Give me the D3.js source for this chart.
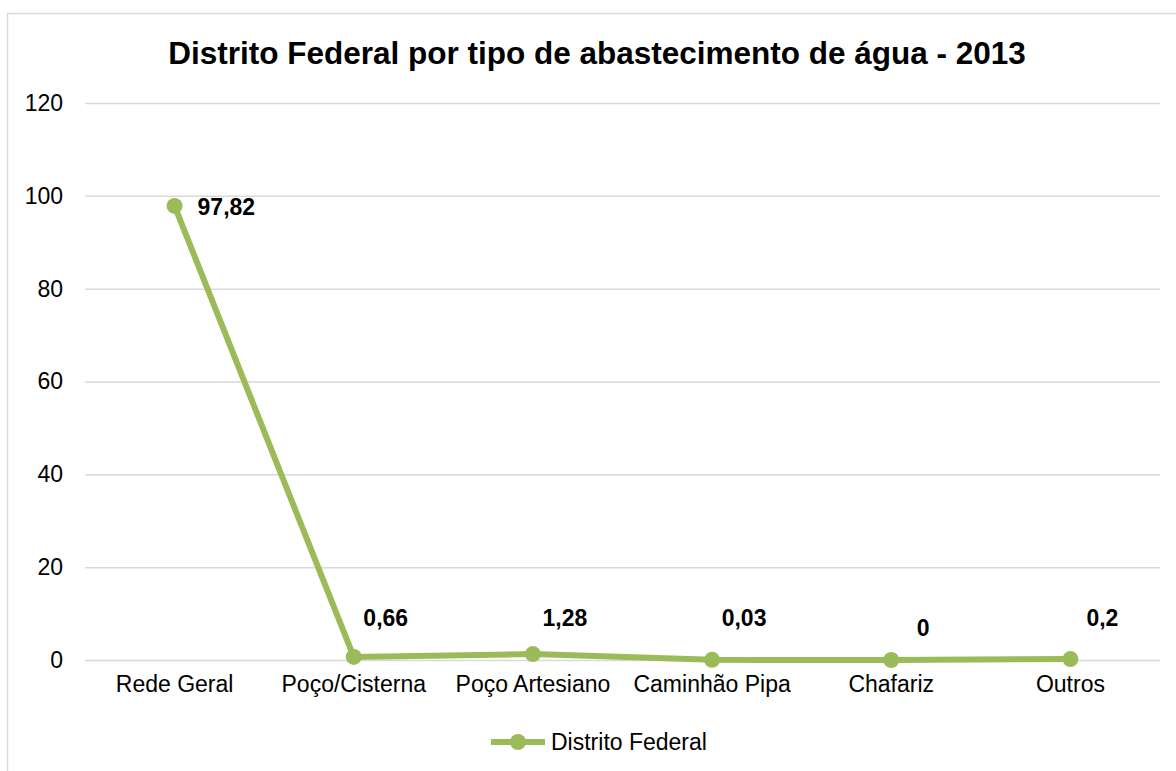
<!DOCTYPE html>
<html>
<head>
<meta charset="utf-8">
<script src="https://cdn.jsdelivr.net/npm/d3@7"></script>
<style>
  body { margin: 0; background: #fff; }
  svg { font-family: "Liberation Sans", Arial, sans-serif; }
</style>
</head>
<body>
<svg id="chart" width="1176" height="771"></svg>
<script>
const categories = ["Rede Geral", "Poço/Cisterna", "Poço Artesiano", "Caminhão Pipa", "Chafariz", "Outros"];
const values = [97.82, 0.66, 1.28, 0.03, 0, 0.2];
const yTicks = [0, 20, 40, 60, 80, 100, 120];
const seriesName = "Distrito Federal";
const title = "Distrito Federal por tipo de abastecimento de água - 2013";

const color = "#9BBB59";
const gridColor = "#d9d9d9";
const margin = { left: 85, top: 103, right: 16, bottom: 111 };
const W = 1176, H = 771;

const svg = d3.select("#chart");

// outer chart frame (runs off the right / bottom edge)
svg.append("rect")
  .attr("x", 7.5).attr("y", 13.5)
  .attr("width", 1200).attr("height", 800)
  .attr("fill", "none")
  .attr("stroke", gridColor)
  .attr("stroke-width", 1.5);

svg.append("text")
  .attr("x", 597).attr("y", 64)
  .attr("text-anchor", "middle")
  .attr("font-size", 31.5)
  .attr("font-weight", "bold")
  .text(title);

const x = d3.scaleBand().domain(categories).range([margin.left, W - margin.right]);
const y = d3.scaleLinear().domain([0, 120]).range([H - margin.bottom, margin.top]);
const cx = d => x(d) + x.bandwidth() / 2;

// gridlines + y labels
const yAxis = svg.append("g")
  .attr("transform", `translate(${margin.left},0)`)
  .call(d3.axisLeft(y).tickValues(yTicks).tickSize(-(W - margin.left - margin.right)).tickPadding(22));
yAxis.select(".domain").remove();
yAxis.selectAll(".tick line").attr("stroke", gridColor).attr("stroke-width", 1.5);
yAxis.selectAll(".tick text").attr("font-size", 23).attr("fill", "#000")
  .attr("font-family", "'Liberation Sans', Arial, sans-serif");

// x labels
const xAxis = svg.append("g")
  .attr("transform", `translate(0,${H - margin.bottom})`)
  .call(d3.axisBottom(x).tickSize(0).tickPadding(16));
xAxis.select(".domain").remove();
xAxis.selectAll(".tick text").attr("font-size", 23).attr("fill", "#000")
  .attr("font-family", "'Liberation Sans', Arial, sans-serif");

const pts = categories.map((c, i) => ({ c, v: values[i] }));

const line = d3.line().x(d => cx(d.c)).y(d => y(d.v));
svg.append("path")
  .datum(pts)
  .attr("fill", "none")
  .attr("stroke", color)
  .attr("stroke-width", 6)
  .attr("stroke-linejoin", "round")
  .attr("d", line);

svg.selectAll("circle.pt")
  .data(pts)
  .join("circle")
  .attr("class", "pt")
  .attr("cx", d => cx(d.c))
  .attr("cy", d => y(d.v))
  .attr("r", 8)
  .attr("fill", color);

// data labels
svg.selectAll("text.lbl")
  .data(pts)
  .join("text")
  .attr("class", "lbl")
  .attr("font-size", 23)
  .attr("font-weight", "bold")
  .attr("dominant-baseline", "central")
  .attr("text-anchor", (d, i) => i === 0 ? "start" : "middle")
  .attr("x", (d, i) => i === 0 ? cx(d.c) + 23 : cx(d.c) + 32)
  .attr("y", (d, i) => i === 0 ? y(d.v) + 1 : (d.v === 0 ? y(d.v) - 32 : y(0) - 42))
  .text(d => String(d.v).replace(".", ","));

// legend
const lg = svg.append("g").attr("transform", "translate(491,742)");
lg.append("line").attr("x1", 0).attr("x2", 54).attr("stroke", color).attr("stroke-width", 6);
lg.append("circle").attr("cx", 27).attr("r", 8).attr("fill", color);
lg.append("text").attr("x", 60).attr("font-size", 23)
  .attr("dominant-baseline", "central").text(seriesName);
</script>
</body>
</html>
